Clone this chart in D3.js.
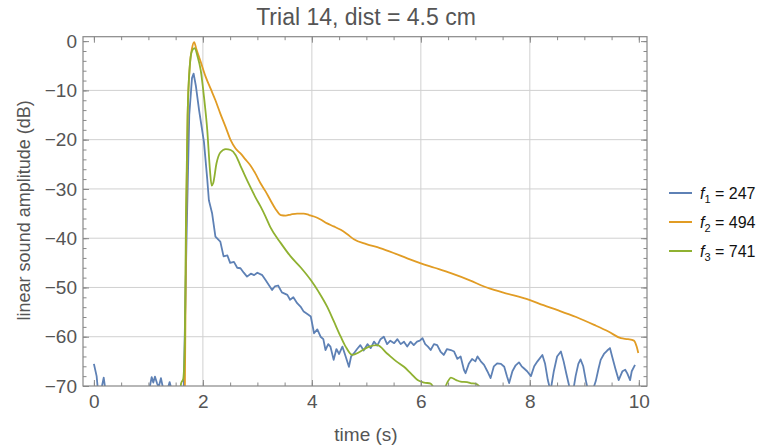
<!DOCTYPE html>
<html lang="en">

<head>
  <meta charset="utf-8">
  <title>Trial 14</title>
  <script src="https://d3js.org/d3.v7.min.js"></script>
  <style>
    body { margin: 0; background: #fff; }
    text { font-family: "Liberation Sans", Arial, sans-serif; }
  </style>
</head>

<body>
  <script type="text/javascript">
  // f1 = 247 (noisy)
  var t1 = [0.00,0.05,0.08,0.13,0.18,0.22,0.30,0.95,1.02,1.06,1.09,1.12,1.16,1.19,1.23,1.27,1.33,1.39,1.43,1.50,1.64,
    1.70,1.75,1.80,1.83,1.87,1.93,2.02,2.08,2.11,2.17,2.23,2.32,2.38,2.45,2.50,2.57,2.63,2.69,2.75,2.81,2.88,2.94,3.00,
    3.09,3.15,3.21,3.27,3.32,3.38,3.45,3.55,3.60,3.66,3.73,3.80,3.85,3.93,3.98,4.04,4.10,4.16,4.21,4.25,4.30,4.34,4.40,
    4.45,4.50,4.56,4.62,4.68,4.72,4.77,4.83,4.89,4.95,5.02,5.08,5.14,5.20,5.26,5.32,5.38,5.44,5.51,5.57,5.63,5.69,5.75,
    5.81,5.87,5.93,5.98,6.03,6.08,6.13,6.18,6.24,6.30,6.36,6.42,6.48,6.55,6.61,6.67,6.73,6.79,6.82,6.88,6.94,7.00,7.04,
    7.10,7.16,7.22,7.28,7.34,7.40,7.47,7.53,7.58,7.62,7.68,7.74,7.80,7.85,7.89,7.95,8.02,8.08,8.14,8.23,8.28,8.33,8.38,
    8.44,8.50,8.57,8.62,8.67,8.72,8.78,8.84,8.89,8.93,8.98,9.03,9.09,9.15,9.21,9.26,9.30,9.36,9.42,9.47,9.51,9.57,9.63,
    9.70,9.75,9.79,9.84,9.87,9.93,9.99];
  var db1 = [-65.5,-68,-71.5,-71,-68.3,-71.5,-76,-76,-70.5,-68.2,-69.3,-68.1,-69.5,-70.2,-68.4,-70.5,-71.5,-69.2,-71,-76,-76,
    -40,-15,-7.5,-6.6,-9,-14,-20.5,-28,-32.3,-35,-39.7,-40.7,-43.7,-43.5,-45,-44.8,-46,-46.1,-47,-47.8,-47.2,-47.5,-47,
    -47.5,-48.5,-49.5,-50.5,-49.8,-49.6,-51,-51.5,-52.5,-52,-53.2,-54,-54.9,-55.5,-55.9,-59.3,-58.5,-60,-60.5,-62.7,-61.5,-62,-64.7,
    -62.5,-63.5,-62,-64,-66.1,-64,-63.4,-62.5,-61.7,-62.8,-61.5,-62.3,-61,-61.8,-60.5,-60,-61.5,-60.8,-61.3,-60.5,-61.5,-61,-62,
    -61,-61.7,-61,-60.8,-60.3,-61.5,-62,-62.7,-61.5,-61.7,-63,-63.7,-62.5,-62.7,-63,-64.5,-64,-66.7,-67.4,-65.5,-64.5,-65,-64,
    -65,-65.7,-67,-68.4,-66,-65.4,-65.5,-66.1,-68,-69.4,-67,-65.8,-65.2,-66,-66.4,-67,-68,-66,-65,-63.7,-65.5,-68.8,-71,
    -67,-64,-63,-65,-67.5,-69.9,-72,-68,-65.5,-64.6,-66,-69,-72,-71,-69,-66.5,-64.7,-63.5,-62.8,-62.3,-64,-66.5,
    -68.8,-67,-66.7,-67.5,-68.8,-67,-65.7];

  // f2 = 494
  var t2 = [1.62,1.67,1.69,1.72,1.76,1.80,1.84,1.88,1.96,2.05,2.14,2.23,2.32,2.42,2.51,2.60,2.69,2.78,2.87,2.96,3.06,3.15,
    3.24,3.33,3.43,3.52,3.61,3.73,3.85,3.95,4.04,4.16,4.28,4.40,4.53,4.65,4.77,5.00,5.25,5.50,5.75,6.00,6.25,6.55,6.91,
    7.16,7.50,7.99,8.25,8.51,8.85,9.18,9.45,9.67,9.80,9.91,9.96,9.99];
  var db2 = [-76,-70,-40,-15,-5,-1.5,-0.2,-1.6,-4.2,-7.2,-9.6,-12,-14.7,-17.5,-20.1,-21.8,-22.8,-24,-25.2,-26.8,-28.9,-30.5,
    -32.3,-34,-35.3,-35.4,-35.2,-35.0,-35.0,-35.3,-35.6,-36.2,-37,-37.6,-38.3,-39.2,-40.2,-41.2,-42,-43,-44.1,-45.1,-46,-47.1,-48.6,
    -49.8,-51,-52.5,-53.6,-54.6,-56,-57.6,-59,-60.3,-60.5,-60.8,-62,-63.3];

  // f3 = 741
  var t3 = [1.55,1.60,1.64,1.67,1.69,1.72,1.76,1.80,1.85,1.90,1.96,2.02,2.08,2.13,2.16,2.19,2.25,2.32,2.42,2.51,2.60,2.69,
    2.78,2.87,2.96,3.06,3.15,3.24,3.43,3.61,3.80,3.98,4.13,4.28,4.40,4.53,4.62,4.74,4.89,5.05,5.20,5.38,5.55,5.69,5.82,
    5.94,6.06,6.18,6.28,6.40,6.50,6.55,6.65,6.73,6.85,6.91,7.00,7.10,7.20];
  var db3 = [-76,-69.5,-68.5,-60,-35,-15,-5,-2,-1.4,-3,-5.9,-11.3,-18,-26.2,-29.3,-28.8,-24.8,-22.6,-21.9,-22.1,-23.1,-25.3,
    -27.5,-29.6,-31.6,-33.6,-35.6,-37.8,-41,-43.7,-46,-48.5,-51,-53.9,-56.8,-60,-62,-63.7,-63,-62,-61.7,-63.4,-65,-66.1,-67.5,
    -68.8,-69.3,-69.5,-71,-71,-69,-68.3,-68.8,-69.1,-69.2,-69.4,-69.5,-70.5,-73];

  var names = ['1', '2', '3'];
  var freqs = [247, 494, 741];
  var colors = ['#5e81b5', '#e19c24', '#8fb131'];

  var xTicks = [0, 2, 4, 6, 8, 10];
  var yTicks = [0, -10, -20, -30, -40, -50, -60, -70];
  var xGrid = [2, 4, 6, 8];
  var yGrid = [-10, -20, -30, -40, -50, -60];

  var w = 765, h = 447;
  var margin = {top: 36.7, right: 118, bottom: 61, left: 83};
  var innerW = w - margin.left - margin.right,
    innerH = h - margin.top - margin.bottom;

  var x = d3.scaleLinear().domain([-0.2, 10.15]).range([0, innerW]);
  var y = d3.scaleLinear().domain([-70, 0.9]).range([innerH, 0]);

  var svg = d3.select('body').append('svg')
      .attr('width', w)
      .attr('height', h);

  var g = svg.append('g')
      .attr('transform', 'translate(' + [margin.left, margin.top] + ')');

  // grid
  g.selectAll('.vgrid').data(xGrid).enter().append('line')
    .attr('x1', function(d){ return x(d); }).attr('x2', function(d){ return x(d); })
    .attr('y1', 0).attr('y2', innerH)
    .style('stroke', '#d0d0d0').style('stroke-width', 1);
  g.selectAll('.hgrid').data(yGrid).enter().append('line')
    .attr('y1', function(d){ return y(d); }).attr('y2', function(d){ return y(d); })
    .attr('x1', 0).attr('x2', innerW)
    .style('stroke', '#d0d0d0').style('stroke-width', 1);

  // curves
  svg.append('clipPath').attr('id', 'clip')
    .append('rect').attr('x', margin.left).attr('y', margin.top).attr('width', innerW).attr('height', innerH);

  var series = [[t1, db1], [t2, db2], [t3, db3]];
  var plot = g.append('g').attr('clip-path', 'url(#clip)').attr('transform', 'translate(' + [-margin.left, -margin.top] + ')')
    .append('g').attr('transform', 'translate(' + [margin.left, margin.top] + ')');
  series.forEach(function(s, i){
    var pts = s[0].map(function(t, k){ return [t, s[1][k]]; });
    var line = d3.line()
      .x(function(d){ return x(d[0]); })
      .y(function(d){ return y(d[1]); })
      .curve(i === 0 ? d3.curveLinear : d3.curveMonotoneX);
    plot.append('path')
      .datum(pts)
      .style('fill', 'none')
      .style('stroke', colors[i])
      .style('stroke-width', 1.8)
      .style('stroke-linejoin', 'round')
      .attr('d', line);
  });

  // frame axes, ticks inward
  var minorX = d3.range(0, 10.01, 0.5), minorY = d3.range(0, -70.01, -2);
  var frameCol = '#888';
  function axisStyle(sel){
    sel.select('.domain').remove();
    sel.selectAll('line').style('stroke', frameCol);
    sel.selectAll('text').style('fill', '#555').style('font-size', '19px');
  }
  g.append('g').attr('transform', 'translate(0,' + innerH + ')')
    .call(d3.axisBottom(x).tickValues(minorX).tickSize(-3.5).tickFormat(''))
    .call(axisStyle);
  g.append('g').attr('transform', 'translate(0,' + innerH + ')')
    .call(d3.axisBottom(x).tickValues(xTicks).tickSize(-6).tickPadding(9).tickFormat(d3.format('d')))
    .call(axisStyle);
  g.append('g')
    .call(d3.axisTop(x).tickValues(minorX).tickSize(-3.5).tickFormat(''))
    .call(axisStyle);
  g.append('g')
    .call(d3.axisTop(x).tickValues(xTicks).tickSize(-6).tickFormat(''))
    .call(axisStyle);
  g.append('g')
    .call(d3.axisLeft(y).tickValues(minorY).tickSize(-3.5).tickFormat(''))
    .call(axisStyle);
  g.append('g')
    .call(d3.axisLeft(y).tickValues(yTicks).tickSize(-6).tickPadding(6)
      .tickFormat(function(d){ return d < 0 ? '\u2212' + Math.abs(d) : d; }))
    .call(axisStyle);
  g.append('g').attr('transform', 'translate(' + innerW + ',0)')
    .call(d3.axisRight(y).tickValues(minorY).tickSize(-3.5).tickFormat(''))
    .call(axisStyle);
  g.append('g').attr('transform', 'translate(' + innerW + ',0)')
    .call(d3.axisRight(y).tickValues(yTicks).tickSize(-6).tickFormat(''))
    .call(axisStyle);

  g.append('rect')
    .attr('width', innerW).attr('height', innerH)
    .style('fill', 'none').style('stroke', frameCol).style('stroke-width', 1.2);

  // labels
  svg.append('text')
    .attr('x', margin.left + innerW / 2 + 1).attr('y', 25)
    .attr('text-anchor', 'middle')
    .style('font-size', '23px').style('fill', '#555')
    .text('Trial 14, dist = 4.5 cm');
  svg.append('text')
    .attr('x', margin.left + innerW / 2 + 1).attr('y', 441)
    .attr('text-anchor', 'middle')
    .style('font-size', '19px').style('fill', '#555')
    .text('time (s)');
  svg.append('text')
    .attr('transform', 'translate(30,' + (margin.top + innerH / 2 - 1) + ') rotate(-90)')
    .attr('text-anchor', 'middle')
    .style('font-size', '18px').style('fill', '#555')
    .text('linear sound amplitude (dB)');

  // legend
  var legend = svg.append('g').attr('transform', 'translate(669,193)');
  var item = legend.selectAll('g').data(names).enter().append('g')
    .attr('transform', function(d, i){ return 'translate(0,' + (i * 29) + ')'; });
  item.append('line')
    .attr('x1', 0).attr('x2', 23)
    .style('stroke', function(d, i){ return colors[i]; })
    .style('stroke-width', 2);
  var lt = item.append('text').attr('x', 31).attr('y', 5.5).style('font-size', '16px').style('fill', '#111');
  lt.append('tspan').style('font-style', 'italic').text('f');
  lt.append('tspan').attr('dy', 4).style('font-size', '11px').text(function(d){ return d; });
  lt.append('tspan').attr('dy', -4).text(function(d, i){ return ' = ' + freqs[i]; });
  </script>
</body>

</html>
